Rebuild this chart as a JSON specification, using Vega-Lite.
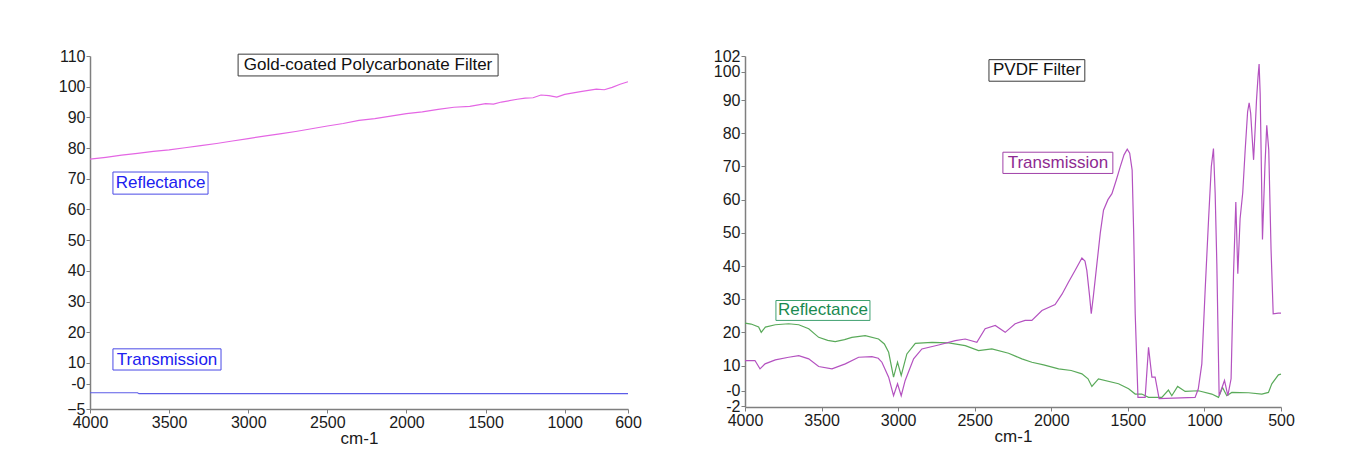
{
  "$schema": "https://vega.github.io/schema/vega-lite/v6.json",
  "background": "white",
  "padding": {"left": 58, "top": 48, "right": 5, "bottom": 5},
  "spacing": 71,
  "config": {
    "font": "Liberation Sans",
    "view": {"stroke": null},
    "axis": {
      "grid": false,
      "labelOverlap": false,
      "labelFlush": false,
      "domainColor": "#7f7f7f",
      "domainWidth": 1.5,
      "tickColor": "#7f7f7f",
      "tickSize": 4,
      "labelFont": "Liberation Sans",
      "labelFontSize": 16,
      "labelColor": "#1a1a1a",
      "labelPadding": 1,
      "titleFont": "Liberation Sans",
      "titleFontSize": 17,
      "titleFontWeight": "normal",
      "titleColor": "#1a1a1a",
      "titlePadding": 0
    }
  },
  "datasets": {
    "gold": [
      {"series": "Reflectance", "wn": 4000, "v": 76.4},
      {"series": "Reflectance", "wn": 3900, "v": 77.0},
      {"series": "Reflectance", "wn": 3800, "v": 77.7},
      {"series": "Reflectance", "wn": 3700, "v": 78.3},
      {"series": "Reflectance", "wn": 3600, "v": 78.9},
      {"series": "Reflectance", "wn": 3500, "v": 79.4},
      {"series": "Reflectance", "wn": 3400, "v": 80.1},
      {"series": "Reflectance", "wn": 3300, "v": 80.8},
      {"series": "Reflectance", "wn": 3200, "v": 81.5},
      {"series": "Reflectance", "wn": 3100, "v": 82.3},
      {"series": "Reflectance", "wn": 3000, "v": 83.1},
      {"series": "Reflectance", "wn": 2900, "v": 83.9},
      {"series": "Reflectance", "wn": 2800, "v": 84.6},
      {"series": "Reflectance", "wn": 2700, "v": 85.4},
      {"series": "Reflectance", "wn": 2600, "v": 86.3},
      {"series": "Reflectance", "wn": 2500, "v": 87.2},
      {"series": "Reflectance", "wn": 2400, "v": 88.0},
      {"series": "Reflectance", "wn": 2300, "v": 89.0},
      {"series": "Reflectance", "wn": 2200, "v": 89.6},
      {"series": "Reflectance", "wn": 2100, "v": 90.4},
      {"series": "Reflectance", "wn": 2000, "v": 91.2},
      {"series": "Reflectance", "wn": 1900, "v": 91.8},
      {"series": "Reflectance", "wn": 1800, "v": 92.6},
      {"series": "Reflectance", "wn": 1700, "v": 93.3},
      {"series": "Reflectance", "wn": 1600, "v": 93.6},
      {"series": "Reflectance", "wn": 1500, "v": 94.5},
      {"series": "Reflectance", "wn": 1450, "v": 94.3},
      {"series": "Reflectance", "wn": 1400, "v": 95.0},
      {"series": "Reflectance", "wn": 1300, "v": 95.9},
      {"series": "Reflectance", "wn": 1250, "v": 96.3},
      {"series": "Reflectance", "wn": 1200, "v": 96.4},
      {"series": "Reflectance", "wn": 1150, "v": 97.3},
      {"series": "Reflectance", "wn": 1100, "v": 97.1},
      {"series": "Reflectance", "wn": 1050, "v": 96.6},
      {"series": "Reflectance", "wn": 1000, "v": 97.5},
      {"series": "Reflectance", "wn": 900, "v": 98.4},
      {"series": "Reflectance", "wn": 800, "v": 99.2},
      {"series": "Reflectance", "wn": 750, "v": 99.0},
      {"series": "Reflectance", "wn": 700, "v": 99.8},
      {"series": "Reflectance", "wn": 650, "v": 100.8},
      {"series": "Reflectance", "wn": 600, "v": 101.6},
      {"series": "Transmission", "wn": 4000, "v": 0.3},
      {"series": "Transmission", "wn": 3700, "v": 0.3},
      {"series": "Transmission", "wn": 3690, "v": 0.0},
      {"series": "Transmission", "wn": 600, "v": 0.0}
    ],
    "pvdf": [
      {"series": "Reflectance", "wn": 4000, "v": 22.8},
      {"series": "Reflectance", "wn": 3960, "v": 22.5},
      {"series": "Reflectance", "wn": 3911, "v": 21.6},
      {"series": "Reflectance", "wn": 3894, "v": 20.0},
      {"series": "Reflectance", "wn": 3867, "v": 21.6},
      {"series": "Reflectance", "wn": 3802, "v": 22.3},
      {"series": "Reflectance", "wn": 3715, "v": 22.6},
      {"series": "Reflectance", "wn": 3649, "v": 22.3},
      {"series": "Reflectance", "wn": 3584, "v": 21.1},
      {"series": "Reflectance", "wn": 3519, "v": 18.5},
      {"series": "Reflectance", "wn": 3460, "v": 17.6},
      {"series": "Reflectance", "wn": 3411, "v": 17.2},
      {"series": "Reflectance", "wn": 3350, "v": 17.8},
      {"series": "Reflectance", "wn": 3302, "v": 18.5},
      {"series": "Reflectance", "wn": 3215, "v": 19.0},
      {"series": "Reflectance", "wn": 3128, "v": 18.0},
      {"series": "Reflectance", "wn": 3090, "v": 16.5},
      {"series": "Reflectance", "wn": 3062, "v": 14.0},
      {"series": "Reflectance", "wn": 3030, "v": 6.5},
      {"series": "Reflectance", "wn": 3004, "v": 11.0},
      {"series": "Reflectance", "wn": 2980, "v": 7.0},
      {"series": "Reflectance", "wn": 2943, "v": 13.5},
      {"series": "Reflectance", "wn": 2888, "v": 16.7},
      {"series": "Reflectance", "wn": 2779, "v": 17.0},
      {"series": "Reflectance", "wn": 2670, "v": 16.8},
      {"series": "Reflectance", "wn": 2562, "v": 16.0},
      {"series": "Reflectance", "wn": 2475, "v": 14.5},
      {"series": "Reflectance", "wn": 2388, "v": 15.0},
      {"series": "Reflectance", "wn": 2279, "v": 13.7},
      {"series": "Reflectance", "wn": 2192, "v": 12.0},
      {"series": "Reflectance", "wn": 2127, "v": 11.0},
      {"series": "Reflectance", "wn": 2050, "v": 10.2},
      {"series": "Reflectance", "wn": 1952, "v": 9.0},
      {"series": "Reflectance", "wn": 1870, "v": 8.5},
      {"series": "Reflectance", "wn": 1800, "v": 7.5},
      {"series": "Reflectance", "wn": 1760, "v": 6.0},
      {"series": "Reflectance", "wn": 1735, "v": 3.7},
      {"series": "Reflectance", "wn": 1692, "v": 6.0},
      {"series": "Reflectance", "wn": 1561, "v": 4.5},
      {"series": "Reflectance", "wn": 1495, "v": 3.0},
      {"series": "Reflectance", "wn": 1452, "v": 1.4},
      {"series": "Reflectance", "wn": 1409, "v": 1.4},
      {"series": "Reflectance", "wn": 1365, "v": 0.4},
      {"series": "Reflectance", "wn": 1278, "v": 0.4},
      {"series": "Reflectance", "wn": 1235, "v": 2.6},
      {"series": "Reflectance", "wn": 1213, "v": 0.9},
      {"series": "Reflectance", "wn": 1175, "v": 3.7},
      {"series": "Reflectance", "wn": 1126, "v": 2.2},
      {"series": "Reflectance", "wn": 1039, "v": 2.4},
      {"series": "Reflectance", "wn": 952, "v": 1.4},
      {"series": "Reflectance", "wn": 908, "v": 0.4},
      {"series": "Reflectance", "wn": 882, "v": 3.4},
      {"series": "Reflectance", "wn": 854, "v": 0.9},
      {"series": "Reflectance", "wn": 821, "v": 1.9},
      {"series": "Reflectance", "wn": 712, "v": 1.8},
      {"series": "Reflectance", "wn": 625, "v": 1.4},
      {"series": "Reflectance", "wn": 582, "v": 1.9},
      {"series": "Reflectance", "wn": 560, "v": 4.5},
      {"series": "Reflectance", "wn": 517, "v": 7.2},
      {"series": "Reflectance", "wn": 500, "v": 7.4},
      {"series": "Transmission", "wn": 4000, "v": 11.5},
      {"series": "Transmission", "wn": 3935, "v": 11.5},
      {"series": "Transmission", "wn": 3902, "v": 9.0},
      {"series": "Transmission", "wn": 3869, "v": 10.5},
      {"series": "Transmission", "wn": 3802, "v": 11.7},
      {"series": "Transmission", "wn": 3715, "v": 12.5},
      {"series": "Transmission", "wn": 3649, "v": 13.0},
      {"series": "Transmission", "wn": 3584, "v": 12.0},
      {"series": "Transmission", "wn": 3519, "v": 9.7},
      {"series": "Transmission", "wn": 3432, "v": 9.0},
      {"series": "Transmission", "wn": 3345, "v": 10.5},
      {"series": "Transmission", "wn": 3258, "v": 12.5},
      {"series": "Transmission", "wn": 3171, "v": 12.7},
      {"series": "Transmission", "wn": 3130, "v": 12.2},
      {"series": "Transmission", "wn": 3106, "v": 11.0},
      {"series": "Transmission", "wn": 3062, "v": 6.5},
      {"series": "Transmission", "wn": 3030, "v": 0.9},
      {"series": "Transmission", "wn": 3004, "v": 4.5},
      {"series": "Transmission", "wn": 2980, "v": 0.9},
      {"series": "Transmission", "wn": 2954, "v": 5.5},
      {"series": "Transmission", "wn": 2899, "v": 12.0},
      {"series": "Transmission", "wn": 2845, "v": 15.0},
      {"series": "Transmission", "wn": 2736, "v": 16.2},
      {"series": "Transmission", "wn": 2627, "v": 17.5},
      {"series": "Transmission", "wn": 2562, "v": 18.0},
      {"series": "Transmission", "wn": 2486, "v": 17.0},
      {"series": "Transmission", "wn": 2432, "v": 21.1},
      {"series": "Transmission", "wn": 2366, "v": 22.1},
      {"series": "Transmission", "wn": 2301, "v": 20.0},
      {"series": "Transmission", "wn": 2236, "v": 22.6},
      {"series": "Transmission", "wn": 2171, "v": 23.6},
      {"series": "Transmission", "wn": 2127, "v": 23.6},
      {"series": "Transmission", "wn": 2061, "v": 26.6},
      {"series": "Transmission", "wn": 1975, "v": 28.4},
      {"series": "Transmission", "wn": 1930, "v": 31.5},
      {"series": "Transmission", "wn": 1888, "v": 35.1},
      {"series": "Transmission", "wn": 1844, "v": 38.7},
      {"series": "Transmission", "wn": 1800, "v": 42.4},
      {"series": "Transmission", "wn": 1780, "v": 41.5},
      {"series": "Transmission", "wn": 1768, "v": 38.7},
      {"series": "Transmission", "wn": 1750, "v": 31.0},
      {"series": "Transmission", "wn": 1739, "v": 25.6},
      {"series": "Transmission", "wn": 1725, "v": 31.0},
      {"series": "Transmission", "wn": 1702, "v": 40.7},
      {"series": "Transmission", "wn": 1680, "v": 50.0},
      {"series": "Transmission", "wn": 1659, "v": 56.8},
      {"series": "Transmission", "wn": 1630, "v": 60.0},
      {"series": "Transmission", "wn": 1604, "v": 61.8},
      {"series": "Transmission", "wn": 1575, "v": 66.0},
      {"series": "Transmission", "wn": 1550, "v": 69.9},
      {"series": "Transmission", "wn": 1525, "v": 73.5},
      {"series": "Transmission", "wn": 1504, "v": 75.2},
      {"series": "Transmission", "wn": 1488, "v": 74.0},
      {"series": "Transmission", "wn": 1472, "v": 68.9},
      {"series": "Transmission", "wn": 1462, "v": 50.0},
      {"series": "Transmission", "wn": 1452, "v": 25.6},
      {"series": "Transmission", "wn": 1434, "v": 0.4},
      {"series": "Transmission", "wn": 1387, "v": 0.4},
      {"series": "Transmission", "wn": 1365, "v": 15.5},
      {"series": "Transmission", "wn": 1343, "v": 6.5},
      {"series": "Transmission", "wn": 1322, "v": 6.5},
      {"series": "Transmission", "wn": 1296, "v": 0.0},
      {"series": "Transmission", "wn": 1061, "v": 0.4},
      {"series": "Transmission", "wn": 1040, "v": 3.0},
      {"series": "Transmission", "wn": 1017, "v": 10.5},
      {"series": "Transmission", "wn": 995, "v": 33.0},
      {"series": "Transmission", "wn": 973, "v": 54.0},
      {"series": "Transmission", "wn": 955, "v": 70.0},
      {"series": "Transmission", "wn": 941, "v": 75.4},
      {"series": "Transmission", "wn": 930, "v": 62.0},
      {"series": "Transmission", "wn": 919, "v": 40.7},
      {"series": "Transmission", "wn": 904, "v": 0.9},
      {"series": "Transmission", "wn": 869, "v": 5.5},
      {"series": "Transmission", "wn": 847, "v": 0.9},
      {"series": "Transmission", "wn": 826, "v": 6.0},
      {"series": "Transmission", "wn": 810, "v": 37.7},
      {"series": "Transmission", "wn": 795, "v": 59.3},
      {"series": "Transmission", "wn": 782, "v": 37.7},
      {"series": "Transmission", "wn": 767, "v": 54.3},
      {"series": "Transmission", "wn": 750, "v": 62.0},
      {"series": "Transmission", "wn": 734, "v": 74.9},
      {"series": "Transmission", "wn": 718, "v": 86.5},
      {"series": "Transmission", "wn": 708, "v": 89.2},
      {"series": "Transmission", "wn": 698, "v": 86.0},
      {"series": "Transmission", "wn": 690, "v": 80.0},
      {"series": "Transmission", "wn": 679, "v": 72.0},
      {"series": "Transmission", "wn": 668, "v": 82.0},
      {"series": "Transmission", "wn": 660, "v": 90.0},
      {"series": "Transmission", "wn": 650, "v": 97.0},
      {"series": "Transmission", "wn": 643, "v": 100.9},
      {"series": "Transmission", "wn": 636, "v": 92.0},
      {"series": "Transmission", "wn": 630, "v": 75.0},
      {"series": "Transmission", "wn": 621, "v": 48.0},
      {"series": "Transmission", "wn": 605, "v": 70.0},
      {"series": "Transmission", "wn": 593, "v": 82.4},
      {"series": "Transmission", "wn": 580, "v": 75.0},
      {"series": "Transmission", "wn": 565, "v": 45.0},
      {"series": "Transmission", "wn": 551, "v": 25.6},
      {"series": "Transmission", "wn": 518, "v": 25.8},
      {"series": "Transmission", "wn": 500, "v": 25.8}
    ],
    "labels": [
      {"panel": "gold", "kind": "Title", "text": "Gold-coated Polycarbonate Filter", "tx": 2243, "ty": 107.1, "x1": 3064, "x2": 1421, "y1": 110.6, "y2": 103.5},
      {"panel": "gold", "kind": "Reflectance", "text": "Reflectance", "tx": 3554, "ty": 68.6, "x1": 3855, "x2": 3254, "y1": 72.2, "y2": 65.0},
      {"panel": "gold", "kind": "Transmission", "text": "Transmission", "tx": 3513, "ty": 11.1, "x1": 3855, "x2": 3172, "y1": 14.6, "y2": 7.7},
      {"panel": "pvdf", "kind": "Title", "text": "PVDF Filter", "tx": 2094, "ty": 99.0, "x1": 2407, "x2": 1781, "y1": 102.2, "y2": 95.7},
      {"panel": "pvdf", "kind": "Transmission", "text": "Transmission", "tx": 1957, "ty": 71.1, "x1": 2316, "x2": 1598, "y1": 74.3, "y2": 67.9},
      {"panel": "pvdf", "kind": "Reflectance", "text": "Reflectance", "tx": 3491, "ty": 26.6, "x1": 3798, "x2": 3184, "y1": 29.6, "y2": 23.6}
    ]
  },
  "hconcat": [
    {
      "width": 538,
      "height": 353,
      "resolve": {"scale": {"color": "independent", "stroke": "independent"}},
      "layer": [
        {
          "data": {"name": "gold"},
          "mark": {"type": "line", "strokeWidth": 1.2},
          "encoding": {
            "x": {"field": "wn", "type": "quantitative",
              "scale": {"domain": [600, 4000], "reverse": true, "nice": false, "zero": false},
              "axis": {"values": [4000, 3500, 3000, 2500, 2000, 1500, 1000, 600], "tickCount": 30, "format": "d", "title": "cm-1", "labelOverlap": false, "labelFlush": false}},
            "y": {"field": "v", "type": "quantitative",
              "scale": {"domain": [-5, 110], "nice": false, "zero": false},
              "axis": {"values": [-5, 3.2, 10, 20, 30, 40, 50, 60, 70, 80, 90, 100, 110], "tickCount": 40, "labelExpr": "datum.value == 3.2 ? '-0' : datum.label", "title": null, "labelOverlap": false}},
            "color": {"field": "series", "type": "nominal",
              "scale": {"domain": ["Reflectance", "Transmission"], "range": ["#e466e4", "#5c5ce8"]}, "legend": null}
          }
        },
        {
          "data": {"name": "labels"},
          "transform": [{"filter": "datum.panel == 'gold'"}],
          "mark": {"type": "rect", "fill": "white", "strokeWidth": 1},
          "encoding": {
            "x": {"field": "x1", "type": "quantitative"},
            "x2": {"field": "x2"},
            "y": {"field": "y1", "type": "quantitative"},
            "y2": {"field": "y2"},
            "stroke": {"field": "kind", "type": "nominal",
              "scale": {"domain": ["Title", "Reflectance", "Transmission"], "range": ["#3a3a3a", "#4a4ae6", "#4a4ae6"]}, "legend": null}
          }
        },
        {
          "data": {"name": "labels"},
          "transform": [{"filter": "datum.panel == 'gold'"}],
          "mark": {"type": "text", "font": "Liberation Sans", "fontSize": 17, "align": "center", "baseline": "middle"},
          "encoding": {
            "x": {"field": "tx", "type": "quantitative"},
            "y": {"field": "ty", "type": "quantitative"},
            "text": {"field": "text"},
            "color": {"field": "kind", "type": "nominal",
              "scale": {"domain": ["Title", "Reflectance", "Transmission"], "range": ["#111111", "#2020f0", "#2020f0"]}, "legend": null}
          }
        }
      ]
    },
    {
      "width": 536,
      "height": 351,
      "resolve": {"scale": {"color": "independent", "stroke": "independent"}},
      "layer": [
        {
          "data": {"name": "pvdf"},
          "mark": {"type": "line", "strokeWidth": 1.2},
          "encoding": {
            "x": {"field": "wn", "type": "quantitative",
              "scale": {"domain": [500, 4000], "reverse": true, "nice": false, "zero": false},
              "axis": {"values": [4000, 3500, 3000, 2500, 2000, 1500, 1000, 500], "tickCount": 30, "format": "d", "title": "cm-1", "labelOverlap": false, "labelFlush": false}},
            "y": {"field": "v", "type": "quantitative",
              "scale": {"domain": [-2.5, 103.3], "nice": false, "zero": false},
              "axis": {"values": [-2.2, 2.4, 10, 20, 30, 40, 50, 60, 70, 80, 90, 98.5, 103.3], "tickCount": 40, "labelExpr": "datum.value == 103.3 ? '102' : datum.value == 98.5 ? '100' : datum.value == 2.4 ? '-0' : datum.value == -2.2 ? '-2' : datum.label", "title": null, "labelOverlap": false}},
            "color": {"field": "series", "type": "nominal",
              "scale": {"domain": ["Reflectance", "Transmission"], "range": ["#5aaa5a", "#b452c0"]}, "legend": null}
          }
        },
        {
          "data": {"name": "labels"},
          "transform": [{"filter": "datum.panel == 'pvdf'"}],
          "mark": {"type": "rect", "fill": "white", "strokeWidth": 1},
          "encoding": {
            "x": {"field": "x1", "type": "quantitative"},
            "x2": {"field": "x2"},
            "y": {"field": "y1", "type": "quantitative"},
            "y2": {"field": "y2"},
            "stroke": {"field": "kind", "type": "nominal",
              "scale": {"domain": ["Title", "Reflectance", "Transmission"], "range": ["#3a3a3a", "#3fa070", "#a040a8"]}, "legend": null}
          }
        },
        {
          "data": {"name": "labels"},
          "transform": [{"filter": "datum.panel == 'pvdf'"}],
          "mark": {"type": "text", "font": "Liberation Sans", "fontSize": 17, "align": "center", "baseline": "middle"},
          "encoding": {
            "x": {"field": "tx", "type": "quantitative"},
            "y": {"field": "ty", "type": "quantitative"},
            "text": {"field": "text"},
            "color": {"field": "kind", "type": "nominal",
              "scale": {"domain": ["Title", "Reflectance", "Transmission"], "range": ["#111111", "#1a8a50", "#8e2a92"]}, "legend": null}
          }
        }
      ]
    }
  ]
}
